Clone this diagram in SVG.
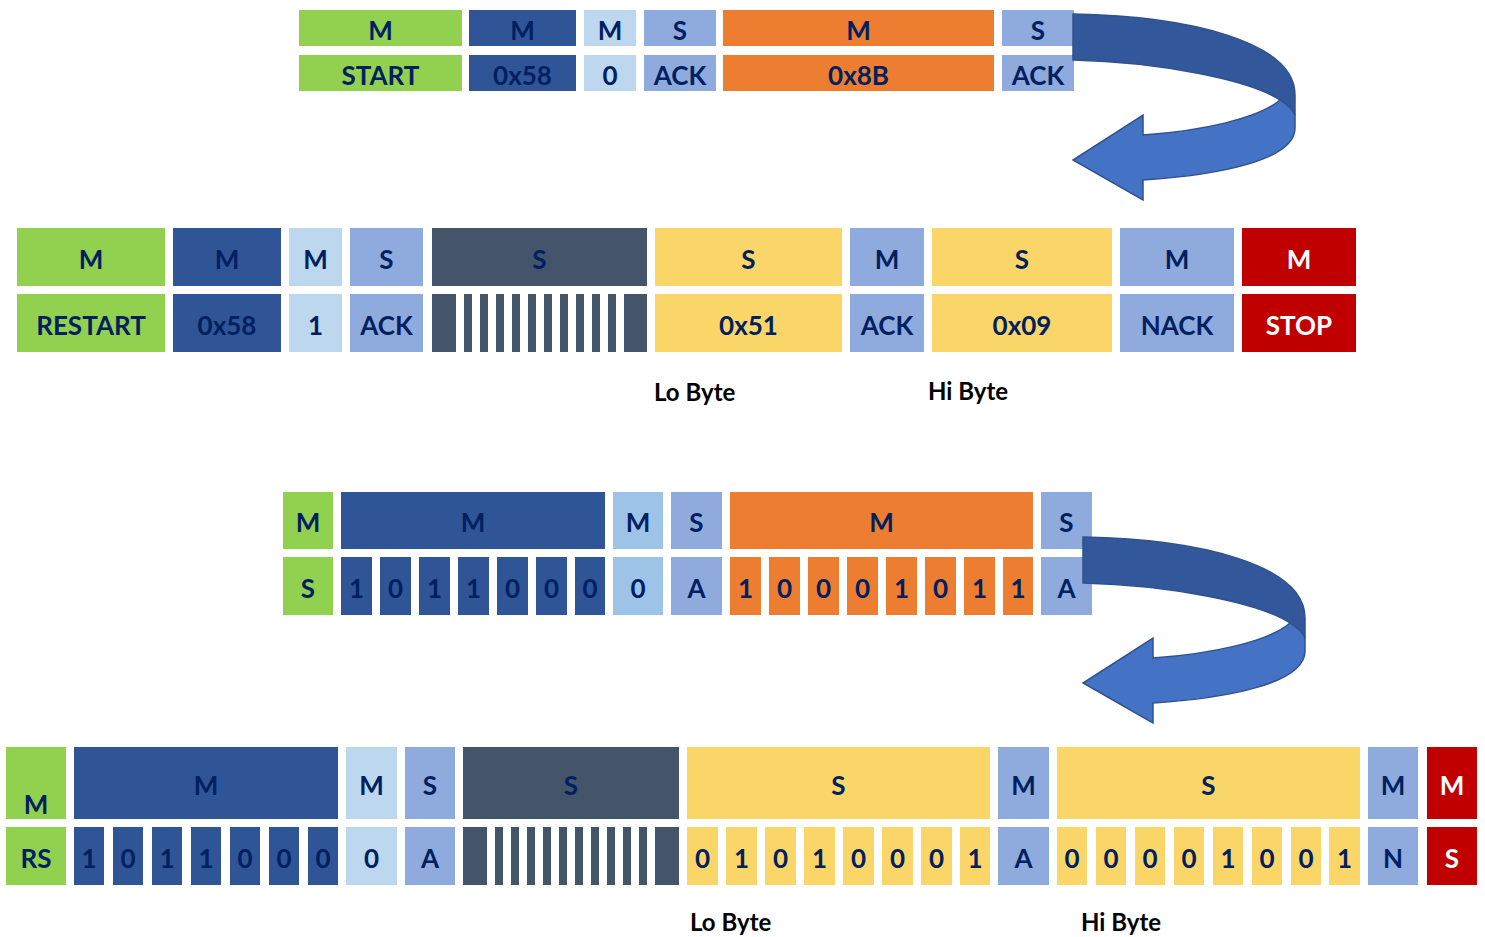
<svg xmlns="http://www.w3.org/2000/svg" width="1485" height="937" viewBox="0 0 1485 937">
<style>
text{font-family:Lato,"Open Sans","Liberation Sans",sans-serif;font-weight:bold;font-size:26px;fill:#002060;text-anchor:middle;transform:translate(0px,3px)}
text.w{fill:#FFFFFF}
text.lbl{fill:#000000;font-size:24px;text-anchor:start;transform:none}
.g{fill:#92D050}.d{fill:#2F5597}.l{fill:#BDD7EE}.l2{fill:#9DC3E6}.m{fill:#8FAADC}.o{fill:#ED7D31}.s{fill:#44546A}.y{fill:#FAD669}.r{fill:#C00000}
.ab{fill:#32579A;stroke:#2F528F;stroke-width:1.5}.af{fill:#4472C4;stroke:#2F528F;stroke-width:1.5}
</style>
<defs>
<g id="arrow">
<path class="ab" d="M1073,14 C1190,16 1295,42 1295,95 L1295,115 C1292,108 1287,104 1280,100 C1250,80 1160,62 1073,60 Z"/>
<path class="af" d="M1280,100 C1287,104 1292,108 1295,115 L1295,128 C1295,160 1220,175 1143,180 L1143,200 L1073,160 L1143,115 L1143,135 C1200,131 1258,119 1280,100 Z"/>
</g>
</defs>
<!-- Section 1 -->
<g id="s1-start"><rect class="g" x="299" y="10" width="163" height="36"/><text x="380.5" y="37">M</text><rect class="g" x="299" y="55" width="163" height="36"/><text x="380.5" y="82">START</text></g>
<g id="s1-addr"><rect class="d" x="469" y="10" width="107" height="36"/><text x="522.5" y="37">M</text><rect class="d" x="469" y="55" width="107" height="36"/><text x="522.5" y="82">0x58</text></g>
<g id="s1-rw"><rect class="l" x="584" y="10" width="52" height="36"/><text x="610" y="37">M</text><rect class="l" x="584" y="55" width="52" height="36"/><text x="610" y="82">0</text></g>
<g id="s1-ack1"><rect class="m" x="644" y="10" width="72" height="36"/><text x="680" y="37">S</text><rect class="m" x="644" y="55" width="72" height="36"/><text x="680" y="82">ACK</text></g>
<g id="s1-reg"><rect class="o" x="723" y="10" width="271" height="36"/><text x="858.5" y="37">M</text><rect class="o" x="723" y="55" width="271" height="36"/><text x="858.5" y="82">0x8B</text></g>
<g id="s1-ack2"><rect class="m" x="1002" y="10" width="72" height="36"/><text x="1038" y="37">S</text><rect class="m" x="1002" y="55" width="72" height="36"/><text x="1038" y="82">ACK</text></g>
<!-- Section 2 -->
<g id="s2-restart"><rect class="g" x="17" y="228" width="148" height="58"/><text x="91" y="266">M</text><rect class="g" x="17" y="294" width="148" height="58"/><text x="91" y="332">RESTART</text></g>
<g id="s2-addr"><rect class="d" x="173" y="228" width="108" height="58"/><text x="227" y="266">M</text><rect class="d" x="173" y="294" width="108" height="58"/><text x="227" y="332">0x58</text></g>
<g id="s2-rw"><rect class="l" x="289" y="228" width="53" height="58"/><text x="315.5" y="266">M</text><rect class="l" x="289" y="294" width="53" height="58"/><text x="315.5" y="332">1</text></g>
<g id="s2-ack1"><rect class="m" x="350" y="228" width="73" height="58"/><text x="386.5" y="266">S</text><rect class="m" x="350" y="294" width="73" height="58"/><text x="386.5" y="332">ACK</text></g>
<g id="s2-stretch"><rect class="s" x="432" y="228" width="215" height="58"/><text x="539.5" y="266">S</text>
<rect class="s" x="432" y="294" width="24" height="58"/><rect class="s" x="464" y="294" width="8" height="58"/><rect class="s" x="480" y="294" width="8" height="58"/><rect class="s" x="496" y="294" width="8" height="58"/><rect class="s" x="512" y="294" width="8" height="58"/><rect class="s" x="528" y="294" width="8" height="58"/><rect class="s" x="544" y="294" width="8" height="58"/><rect class="s" x="560" y="294" width="8" height="58"/><rect class="s" x="576" y="294" width="8" height="58"/><rect class="s" x="592" y="294" width="8" height="58"/><rect class="s" x="608" y="294" width="8" height="58"/><rect class="s" x="624" y="294" width="23" height="58"/></g>
<g id="s2-lo"><rect class="y" x="655" y="228" width="187" height="58"/><text x="748.5" y="266">S</text><rect class="y" x="655" y="294" width="187" height="58"/><text x="748.5" y="332">0x51</text></g>
<g id="s2-ack2"><rect class="m" x="850" y="228" width="74" height="58"/><text x="887" y="266">M</text><rect class="m" x="850" y="294" width="74" height="58"/><text x="887" y="332">ACK</text></g>
<g id="s2-hi"><rect class="y" x="932" y="228" width="180" height="58"/><text x="1022" y="266">S</text><rect class="y" x="932" y="294" width="180" height="58"/><text x="1022" y="332">0x09</text></g>
<g id="s2-nack"><rect class="m" x="1120" y="228" width="114" height="58"/><text x="1177" y="266">M</text><rect class="m" x="1120" y="294" width="114" height="58"/><text x="1177" y="332">NACK</text></g>
<g id="s2-stop"><rect class="r" x="1242" y="228" width="114" height="58"/><text class="w" x="1299" y="266">M</text><rect class="r" x="1242" y="294" width="114" height="58"/><text class="w" x="1299" y="332">STOP</text></g>
<g id="s2-labels"><text class="lbl" x="654" y="401">Lo Byte</text><text class="lbl" x="928" y="400">Hi Byte</text></g>
<!-- Section 3 -->
<g id="s3-start"><rect class="g" x="283" y="492" width="50" height="57"/><text x="308" y="529">M</text><rect class="g" x="283" y="557" width="50" height="58"/><text x="308" y="595">S</text></g>
<g id="s3-addr"><rect class="d" x="341" y="492" width="264" height="57"/><text x="473" y="529">M</text>
<rect class="d" x="341" y="557" width="31" height="58"/><text x="356.5" y="595">1</text>
<rect class="d" x="380" y="557" width="31" height="58"/><text x="395.5" y="595">0</text>
<rect class="d" x="419" y="557" width="31" height="58"/><text x="434.5" y="595">1</text>
<rect class="d" x="458" y="557" width="31" height="58"/><text x="473.5" y="595">1</text>
<rect class="d" x="497" y="557" width="31" height="58"/><text x="512.5" y="595">0</text>
<rect class="d" x="536" y="557" width="31" height="58"/><text x="551.5" y="595">0</text>
<rect class="d" x="575" y="557" width="30" height="58"/><text x="590" y="595">0</text></g>
<g id="s3-rw"><rect class="l2" x="613" y="492" width="50" height="57"/><text x="638" y="529">M</text><rect class="l2" x="613" y="557" width="50" height="58"/><text x="638" y="595">0</text></g>
<g id="s3-ack1"><rect class="m" x="671" y="492" width="51" height="57"/><text x="696.5" y="529">S</text><rect class="m" x="671" y="557" width="51" height="58"/><text x="696.5" y="595">A</text></g>
<g id="s3-reg"><rect class="o" x="730" y="492" width="303" height="57"/><text x="881.5" y="529">M</text>
<rect class="o" x="730" y="557" width="31" height="58"/><text x="745.5" y="595">1</text>
<rect class="o" x="769" y="557" width="31" height="58"/><text x="784.5" y="595">0</text>
<rect class="o" x="808" y="557" width="31" height="58"/><text x="823.5" y="595">0</text>
<rect class="o" x="847" y="557" width="31" height="58"/><text x="862.5" y="595">0</text>
<rect class="o" x="886" y="557" width="31" height="58"/><text x="901.5" y="595">1</text>
<rect class="o" x="925" y="557" width="31" height="58"/><text x="940.5" y="595">0</text>
<rect class="o" x="964" y="557" width="31" height="58"/><text x="979.5" y="595">1</text>
<rect class="o" x="1003" y="557" width="30" height="58"/><text x="1018" y="595">1</text></g>
<g id="s3-ack2"><rect class="m" x="1041" y="492" width="51" height="57"/><text x="1066.5" y="529">S</text><rect class="m" x="1041" y="557" width="51" height="58"/><text x="1066.5" y="595">A</text></g>
<!-- Section 4 -->
<g id="s4-restart"><rect class="g" x="6" y="747" width="60" height="72"/><text x="36" y="811">M</text><rect class="g" x="6" y="827" width="60" height="58"/><text x="36" y="865">RS</text></g>
<g id="s4-addr"><rect class="d" x="74" y="747" width="264" height="72"/><text x="206" y="792">M</text>
<rect class="d" x="74" y="827" width="30" height="58"/><text x="89" y="865">1</text>
<rect class="d" x="113" y="827" width="30" height="58"/><text x="128" y="865">0</text>
<rect class="d" x="152" y="827" width="30" height="58"/><text x="167" y="865">1</text>
<rect class="d" x="191" y="827" width="30" height="58"/><text x="206" y="865">1</text>
<rect class="d" x="230" y="827" width="30" height="58"/><text x="245" y="865">0</text>
<rect class="d" x="269" y="827" width="30" height="58"/><text x="284" y="865">0</text>
<rect class="d" x="308" y="827" width="30" height="58"/><text x="323" y="865">0</text></g>
<g id="s4-rw"><rect class="l" x="346" y="747" width="51" height="72"/><text x="371.5" y="792">M</text><rect class="l" x="346" y="827" width="51" height="58"/><text x="371.5" y="865">0</text></g>
<g id="s4-ack1"><rect class="m" x="405" y="747" width="50" height="72"/><text x="430" y="792">S</text><rect class="m" x="405" y="827" width="50" height="58"/><text x="430" y="865">A</text></g>
<g id="s4-stretch"><rect class="s" x="463" y="747" width="216" height="72"/><text x="571" y="792">S</text>
<rect class="s" x="463" y="827" width="24" height="58"/><rect class="s" x="495" y="827" width="8" height="58"/><rect class="s" x="511" y="827" width="8" height="58"/><rect class="s" x="527" y="827" width="8" height="58"/><rect class="s" x="543" y="827" width="8" height="58"/><rect class="s" x="559" y="827" width="8" height="58"/><rect class="s" x="575" y="827" width="8" height="58"/><rect class="s" x="591" y="827" width="8" height="58"/><rect class="s" x="607" y="827" width="8" height="58"/><rect class="s" x="623" y="827" width="8" height="58"/><rect class="s" x="639" y="827" width="8" height="58"/><rect class="s" x="655" y="827" width="24" height="58"/></g>
<g id="s4-lo"><rect class="y" x="687" y="747" width="303" height="72"/><text x="838.5" y="792">S</text>
<rect class="y" x="687" y="827" width="31" height="58"/><text x="702.5" y="865">0</text>
<rect class="y" x="726" y="827" width="31" height="58"/><text x="741.5" y="865">1</text>
<rect class="y" x="765" y="827" width="31" height="58"/><text x="780.5" y="865">0</text>
<rect class="y" x="804" y="827" width="31" height="58"/><text x="819.5" y="865">1</text>
<rect class="y" x="843" y="827" width="31" height="58"/><text x="858.5" y="865">0</text>
<rect class="y" x="882" y="827" width="31" height="58"/><text x="897.5" y="865">0</text>
<rect class="y" x="921" y="827" width="31" height="58"/><text x="936.5" y="865">0</text>
<rect class="y" x="960" y="827" width="30" height="58"/><text x="975" y="865">1</text></g>
<g id="s4-ack2"><rect class="m" x="998" y="747" width="51" height="72"/><text x="1023.5" y="792">M</text><rect class="m" x="998" y="827" width="51" height="58"/><text x="1023.5" y="865">A</text></g>
<g id="s4-hi"><rect class="y" x="1057" y="747" width="303" height="72"/><text x="1208.5" y="792">S</text>
<rect class="y" x="1057" y="827" width="30" height="58"/><text x="1072" y="865">0</text>
<rect class="y" x="1096" y="827" width="30" height="58"/><text x="1111" y="865">0</text>
<rect class="y" x="1135" y="827" width="30" height="58"/><text x="1150" y="865">0</text>
<rect class="y" x="1174" y="827" width="30" height="58"/><text x="1189" y="865">0</text>
<rect class="y" x="1213" y="827" width="30" height="58"/><text x="1228" y="865">1</text>
<rect class="y" x="1252" y="827" width="30" height="58"/><text x="1267" y="865">0</text>
<rect class="y" x="1291" y="827" width="30" height="58"/><text x="1306" y="865">0</text>
<rect class="y" x="1329" y="827" width="31" height="58"/><text x="1344.5" y="865">1</text></g>
<g id="s4-nack"><rect class="m" x="1368" y="747" width="50" height="72"/><text x="1393" y="792">M</text><rect class="m" x="1368" y="827" width="50" height="58"/><text x="1393" y="865">N</text></g>
<g id="s4-stop"><rect class="r" x="1427" y="747" width="50" height="72"/><text class="w" x="1452" y="792">M</text><rect class="r" x="1427" y="827" width="50" height="58"/><text class="w" x="1452" y="865">S</text></g>
<g id="s4-labels"><text class="lbl" x="690" y="931">Lo Byte</text><text class="lbl" x="1081" y="931">Hi Byte</text></g>
<!-- Connectors -->
<g id="connectors">
<use href="#arrow"/>
<use href="#arrow" transform="translate(10,523)"/>
</g>
</svg>
